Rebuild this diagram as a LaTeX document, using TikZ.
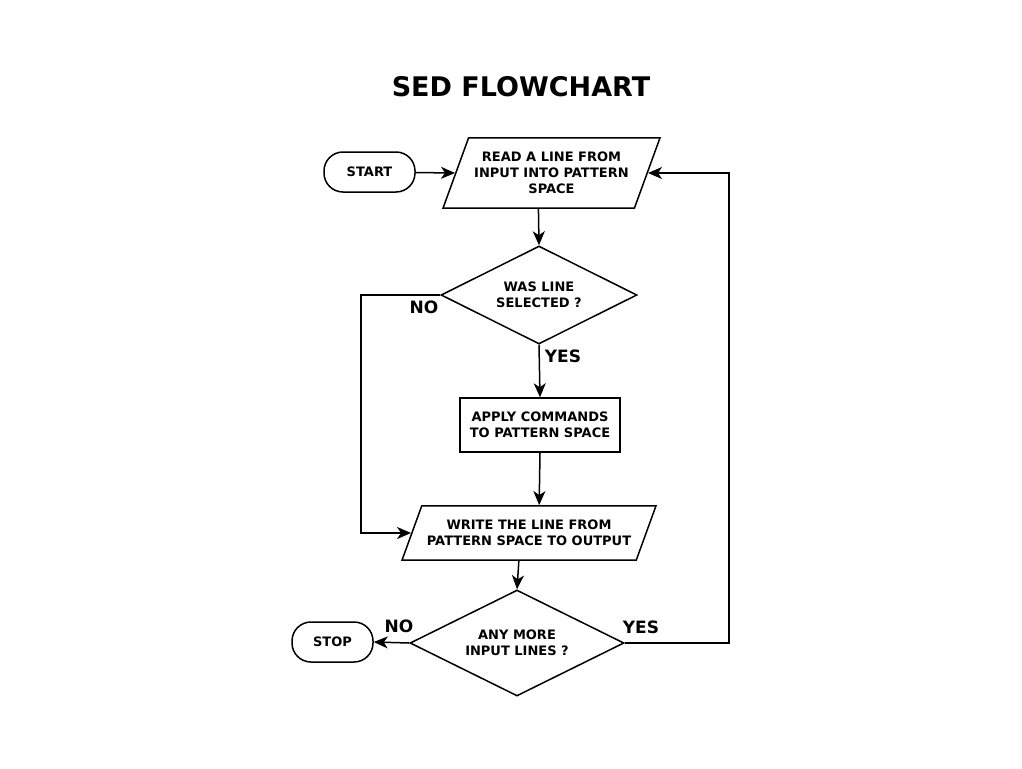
\documentclass[tikz,border=0pt]{standalone}
\usepackage{fontspec}
\setmainfont{DejaVu Sans}
\usetikzlibrary{shapes.geometric,arrows.meta}

\begin{document}
\begin{tikzpicture}[x=1pt,y=-1pt,line width=1.5pt,
    every node/.style={font=\bfseries\fontsize{13}{16}\selectfont,align=center},
    terminal/.style={draw,rounded corners=19pt,minimum width=91pt,minimum height=40pt},
    io/.style={draw,trapezium,trapezium left angle=70,trapezium right angle=110,
      trapezium stretches body,inner xsep=0pt,inner ysep=14.25pt},
    process/.style={draw,minimum width=160pt,minimum height=54pt},
    decision/.style={draw,diamond,aspect=2,inner sep=0pt},
    answer/.style={font=\bfseries\fontsize{17}{20}\selectfont},
    flow/.style={-{Stealth[length=14pt,width=12pt,inset=4pt]}}]
  \useasboundingbox (0,0) rectangle (1022,768);
  \node[font=\bfseries\fontsize{27}{32}\selectfont] (title) at (521,87) {SED FLOWCHART};
  % boxes
  \node[terminal] (start) at (369.5,172) {START};
  \node[io,minimum width=217pt] (read) at (551.5,173)
    {READ A LINE FROM\\INPUT INTO PATTERN\\SPACE};
  \node[decision,minimum width=196pt,minimum height=98pt] (sel) at (539,295)
    {WAS LINE\\SELECTED ?};
  \node[process] (apply) at (540,425) {APPLY COMMANDS\\TO PATTERN SPACE};
  \node[io,minimum width=254pt] (write) at (529,533)
    {WRITE THE LINE FROM\\PATTERN SPACE TO OUTPUT};
  \node[decision,minimum width=214pt,minimum height=106pt] (more) at (517,643)
    {ANY MORE\\INPUT LINES ?};
  \node[terminal,minimum width=81pt] (stop) at (332.5,642) {STOP};
  % answers
  \node[answer] (selno) at (424,307) {NO};
  \node[answer] (selyes) at (563,356) {YES};
  \node[answer] (moreno) at (399,626) {NO};
  \node[answer] (moreyes) at (641,627) {YES};
  % rails
  \coordinate (skip) at (361,0);
  \coordinate (back) at (729,0);
  \begin{scope}[flow]
    \draw (start) -- (read.west);
    \draw (read.bottom side) -- (sel.north);
    \draw (sel.west) -- (sel.west -| skip) -- (write.west -| skip) -- (write.west);
    \draw (sel.south) -- (apply.north);
    \draw (apply.south) -- (write.top side);
    \draw (write.bottom side) -- (more.north);
    \draw (more.west) -- (stop.east);
    \draw (more.east) -- (more.east -| back) -- (read.east -| back) -- (read.east);
  \end{scope}
\end{tikzpicture}
\end{document}
